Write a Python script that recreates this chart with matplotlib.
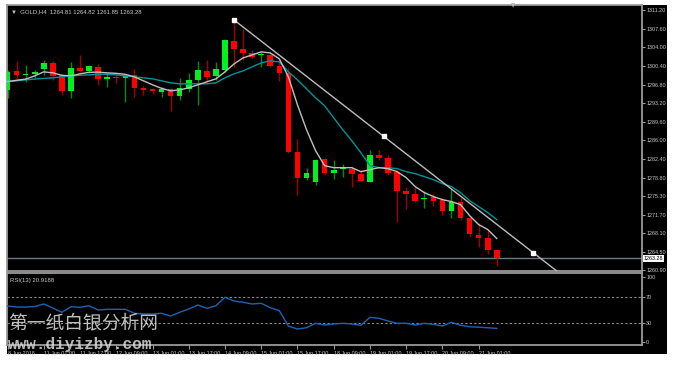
import matplotlib
matplotlib.use("Agg")
import matplotlib.pyplot as plt
from matplotlib.patches import Rectangle

# GOLD H4 candles, 8 Jun 09:00 .. 21 Jun 09:00
open_ = [1295.78, 1299.45, 1298.67, 1298.87, 1299.83, 1300.99, 1298.67, 1295.59, 1300.02, 1299.45,
         1300.22, 1297.90, 1298.29, 1298.10, 1298.67, 1296.17, 1295.98, 1295.40, 1295.98, 1294.63,
         1295.98, 1297.71, 1299.45, 1298.48, 1299.64, 1305.23, 1303.68, 1302.91, 1302.53, 1302.53,
         1300.41, 1299.06, 1283.84, 1278.83, 1278.06, 1282.49, 1279.79, 1280.56, 1280.56, 1279.60,
         1278.06, 1283.26, 1282.68, 1279.98, 1276.32, 1275.74, 1274.78, 1275.17, 1274.59, 1272.47,
         1274.20, 1271.12, 1267.84, 1267.26, 1264.81]
high = [1299.64, 1301.37, 1300.60, 1299.64, 1301.57, 1301.37, 1298.87, 1301.18, 1302.53, 1300.60,
        1300.79, 1299.06, 1298.87, 1298.67, 1299.83, 1296.56, 1296.17, 1296.36, 1296.17, 1298.10,
        1299.06, 1301.37, 1301.57, 1301.18, 1305.61, 1309.27, 1307.54, 1303.49, 1303.11, 1302.91,
        1301.57, 1300.02, 1286.34, 1280.75, 1282.49, 1282.68, 1282.29, 1281.52, 1281.14, 1280.37,
        1284.22, 1284.22, 1283.26, 1280.37, 1277.09, 1277.09, 1276.32, 1275.74, 1274.59, 1276.71,
        1274.97, 1271.12, 1270.15, 1268.81, 1264.82]
low = [1294.24, 1297.71, 1297.33, 1298.10, 1298.67, 1297.71, 1294.82, 1294.24, 1299.25, 1299.06,
       1296.75, 1296.36, 1297.13, 1293.47, 1294.44, 1294.82, 1295.01, 1294.44, 1291.74, 1293.86,
       1295.40, 1292.89, 1297.33, 1297.71, 1299.25, 1300.22, 1301.57, 1301.95, 1300.22, 1300.22,
       1297.52, 1283.50, 1275.55, 1278.44, 1277.48, 1279.40, 1278.63, 1279.02, 1277.09, 1278.25,
       1278.06, 1282.29, 1279.40, 1270.35, 1272.85, 1274.20, 1273.05, 1273.43, 1271.70, 1271.12,
       1270.73, 1267.46, 1265.53, 1263.99, 1261.85]
close = [1299.25, 1298.67, 1298.87, 1299.25, 1300.99, 1298.48, 1295.59, 1300.02, 1299.45, 1300.41,
         1297.90, 1298.29, 1298.10, 1298.48, 1296.17, 1295.78, 1295.59, 1295.98, 1294.63, 1296.17,
         1297.71, 1299.64, 1298.29, 1299.83, 1305.42, 1303.68, 1302.91, 1302.14, 1302.72, 1300.41,
         1299.06, 1283.84, 1278.83, 1279.79, 1282.29, 1279.79, 1280.37, 1280.75, 1279.60, 1278.25,
         1283.26, 1282.68, 1279.79, 1276.32, 1275.74, 1274.39, 1274.97, 1274.39, 1272.47, 1274.20,
         1271.12, 1268.04, 1267.26, 1264.95, 1263.28]

ma_fast = [1297.38, 1297.62, 1297.85, 1298.48, 1299.25, 1299.06, 1298.58, 1298.48, 1298.87, 1299.16,
           1299.20, 1299.06, 1298.96, 1298.77, 1298.29, 1297.52, 1296.75, 1296.07, 1295.59, 1295.78,
           1296.17, 1296.75, 1297.33, 1297.90, 1299.25, 1300.79, 1301.95, 1302.53, 1303.11, 1302.91,
           1301.76, 1298.29, 1292.89, 1288.08, 1284.03, 1281.14, 1280.75, 1280.75, 1280.75, 1279.98,
           1280.37, 1280.75, 1280.56, 1279.98, 1278.83, 1277.09, 1275.94, 1275.17, 1274.59, 1274.20,
           1273.62, 1271.50, 1269.77, 1268.81, 1267.07]
ma_slow = [1297.38, 1297.52, 1297.71, 1297.85, 1298.00, 1298.10, 1298.29, 1298.48, 1298.58, 1298.67,
           1298.81, 1298.77, 1298.67, 1298.48, 1298.29, 1298.10, 1297.90, 1297.52, 1297.13, 1296.94,
           1296.94, 1296.94, 1296.94, 1297.13, 1298.10, 1298.87, 1299.45, 1300.22, 1300.99, 1301.37,
           1301.18, 1299.25, 1297.71, 1295.98, 1294.24, 1292.70, 1290.39, 1288.08, 1285.96, 1283.64,
           1281.14, 1280.75, 1280.75, 1280.56, 1279.98, 1279.60, 1279.02, 1278.44, 1277.67, 1277.09,
           1275.94, 1274.39, 1273.24, 1272.08, 1270.73]

rsi = [55.4, 53.8, 53.8, 54.6, 58.5, 52.3, 45.7, 54.3, 53.4, 55.8,
       49.2, 50.3, 50.3, 50.3, 44.2, 43.1, 43.1, 44.2, 40.0, 45.7,
       50.8, 56.9, 51.8, 55.8, 68.8, 63.1, 61.1, 58.5, 59.5, 52.8,
       48.2, 24.6, 20.0, 22.0, 28.8, 26.2, 27.7, 28.8, 27.7, 25.7,
       38.0, 36.5, 32.3, 28.8, 28.8, 26.2, 28.8, 27.2, 24.6, 30.3,
       25.7, 23.5, 22.8, 22.0, 20.92]

trend_t = [25, 58]
trend_p = [1309.27, 1264.37]

price_ticks = [1311.20, 1307.60, 1304.00, 1300.40, 1296.80, 1293.20, 1289.60, 1286.00,
               1282.40, 1278.80, 1275.30, 1271.70, 1268.10, 1264.50, 1260.90]
time_ticks = list(range(0, 55, 4))
time_labels = ["8 Jun 2018", "11 Jun 01:00", "11 Jun 17:00", "12 Jun 09:00", "13 Jun 01:00",
               "13 Jun 17:00", "14 Jun 09:00", "15 Jun 01:00", "15 Jun 17:00", "18 Jun 09:00",
               "19 Jun 01:00", "19 Jun 17:00", "20 Jun 09:00", "21 Jun 01:00"]

W, H = 675, 365
small = "Liberation Sans"
fig = plt.figure(figsize=(6.75, 3.65), dpi=100)
fig.patch.set_facecolor("white")
fig.patches.append(Rectangle((7 / W, 1 - 354 / H), 660 / W, 349 / H,
                             transform=fig.transFigure, facecolor="black", zorder=-10))

ax = fig.add_axes([7 / W, 1 - 271 / H, 635 / W, 266 / H])
ax2 = fig.add_axes([7 / W, 1 - 345 / H, 635 / W, 72 / H])
grey = "#9a9a9a"
txt = "#c8c8c8"
for a in (ax, ax2):
    a.set_facecolor("black")
    for s in a.spines.values():
        s.set_color(grey)
        s.set_linewidth(1.3)
    a.set_xlim(-0.06, 70.03)

# candles
n = len(close)
for i in range(n):
    o, h, l, c = open_[i], high[i], low[i], close[i]
    up = c >= o
    ax.vlines(i, l, h, color="#009000" if up else "#a00000", lw=1, zorder=2)
    body = max(abs(c - o), 0.2)
    ax.bar(i, body, bottom=min(o, c), width=0.62,
           color="#00f020" if up else "#ff0000", zorder=3)

x = list(range(n))
ax.plot(x, ma_slow, color="#00939a", lw=1, zorder=4)
ax.plot(x, ma_fast, color="#c0c0c0", lw=1, zorder=5)

# trend line with its three handles
slope = (trend_p[1] - trend_p[0]) / (trend_t[1] - trend_t[0])
ax.plot([trend_t[0], 65], [trend_p[0], trend_p[0] + slope * (65 - trend_t[0])],
        color="#bdbdbd", lw=1, zorder=6)
mid = (trend_t[0] + trend_t[1]) / 2
ax.plot([trend_t[0], mid, trend_t[1]],
        [trend_p[0], trend_p[0] + slope * (mid - trend_t[0]), trend_p[1]],
        ls="none", marker="s", ms=3, color="white", zorder=7)

# last price
ax.axhline(close[-1], color="#6c7888", lw=1, zorder=1)
ax.text(1.003, close[-1], "%.2f" % close[-1], transform=ax.get_yaxis_transform(),
        fontsize=3.9, family=small, color="black", va="center", ha="left",
        bbox=dict(boxstyle="square,pad=0.2", fc="white", ec="none"), clip_on=False)

ax.set_ylim(1260.8, 1312.16)
ax.yaxis.tick_right()
ax.set_yticks(price_ticks)
ax.set_yticklabels(["%.2f" % p for p in price_ticks], family=small)
ax.tick_params(axis="y", colors=grey, labelcolor=txt, labelsize=3.9, length=2, pad=1)
ax.set_xticks([])

ax.text(0.006, 0.985, "\u25bc  GOLD,H4  1264.81 1264.82 1261.85 1263.28",
        transform=ax.transAxes, fontsize=4.3, family=[small, "DejaVu Sans"],
        color=txt, va="top", ha="left")
fig.text(513 / W, 1 - 6 / H, "\u25bc", fontsize=4, color="#b0b8c0", ha="center", va="center")

# RSI pane
ax2.plot(x, rsi, color="#1f62b4", lw=1, zorder=3)
for lvl in (70, 30):
    ax2.axhline(lvl, color="#8a8a8a", lw=0.8, ls=(0, (2, 2)), zorder=1)
ax2.set_ylim(-4.6, 106.2)
ax2.yaxis.tick_right()
ax2.set_yticks([100, 70, 30, 0])
ax2.set_yticklabels(["100", "70", "30", "0"], family=small)
ax2.tick_params(axis="y", colors=grey, labelcolor=txt, labelsize=3.9, length=2, pad=1)
ax2.set_xticks(time_ticks)
ax2.set_xticklabels(time_labels, ha="left", family=small)
ax2.tick_params(axis="x", colors=grey, labelcolor=txt, labelsize=3.9, length=3, pad=1)
ax2.text(0.004, 0.93, "RSI(13) 20.9188", transform=ax2.transAxes, family=small,
         fontsize=4.3, color=txt, va="top", ha="left")

# watermark
fig.text(8 / W, 1 - 323 / H, "第一纸白银分析网", family=["Noto Sans CJK SC", "DejaVu Sans"],
         fontsize=13.5, color="#e0e0e0", alpha=0.85, va="center", ha="left")
fig.text(8 / W, 1 - 344 / H, "www.diyizby.com", family="Liberation Mono", weight="bold",
         fontsize=11.5, color="#d8d8d8", alpha=0.85, va="center", ha="left")

fig.savefig("out.png", dpi=100, facecolor=fig.get_facecolor())
